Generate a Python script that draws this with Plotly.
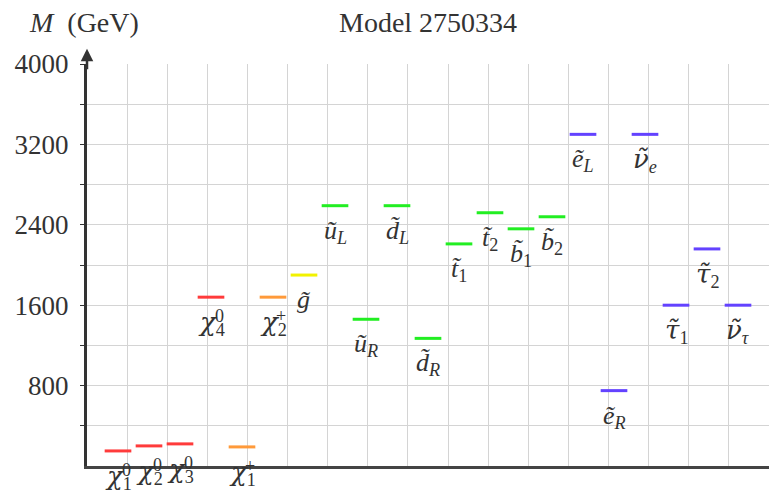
import plotly.graph_objects as go

# ---- data ----
GREEK = "<span style=\"font-family:'DejaVu Serif'\">{}</span>"
labels = [
    "<i>" + GREEK.format("χ") + "</i><sub>1</sub>",
    "<i>" + GREEK.format("χ") + "</i><sub>2</sub>",
    "<i>" + GREEK.format("χ") + "</i><sub>3</sub>",
    "<i>" + GREEK.format("χ") + "</i><sub>4</sub>",
    "<i>" + GREEK.format("χ") + "</i><sub>1</sub>",
    "<i>" + GREEK.format("χ") + "</i><sub>2</sub>",
    "<i>g\u0303</i>",
    "<i>ũ</i><sub><i>L</i></sub>",
    "<i>ũ</i><sub><i>R</i></sub>",
    "<i>d\u0303</i><sub><i>L</i></sub>",
    "<i>d\u0303</i><sub><i>R</i></sub>",
    "<i>t\u0303</i><sub>1</sub>",
    "<i>t\u0303</i><sub>2</sub>",
    "<i>b\u0303</i><sub>1</sub>",
    "<i>b\u0303</i><sub>2</sub>",
    "<i>ẽ</i><sub><i>L</i></sub>",
    "<i>ẽ</i><sub><i>R</i></sub>",
    "<i>" + GREEK.format("ν\u0303") + "</i><sub><i>e</i></sub>",
    "<i>" + GREEK.format("τ\u0303") + "</i><sub>1</sub>",
    "<i>" + GREEK.format("τ\u0303") + "</i><sub>2</sub>",
    "<i>" + GREEK.format("ν\u0303") + "</i><sub><i>τ</i></sub>",
]
label_sups = ["0", "0", "0", "0", "+", "+"] + [""] * 15
masses = [150, 200, 220, 1680, 190, 1680, 1900, 2590, 1460, 2590, 1270,
          2210, 2520, 2360, 2480, 3300, 750, 3300, 1600, 2160, 1600]
kinds = (["neutralino"] * 4 + ["chargino"] * 2 + ["gluino"]
         + ["squark"] * 8 + ["slepton"] * 6)
y_tick_values = [400, 800, 1200, 1600, 2000, 2400, 2800, 3200, 3600, 4000]
y_tick_text = ["", "800", "", "1600", "", "2400", "", "3200", "", "4000"]
title_text = "Model 2750334"
y_title = "<i>M</i>  (GeV)"

# ---- style ----
kind_colors = {
    "neutralino": "#ff3b3b",
    "chargino": "#ff9a3a",
    "gluino": "#f2f200",
    "squark": "#22ee22",
    "slepton": "#6342ff",
}
FONT = "Liberation Serif"
TXT = "#333"
half_w = 0.43
n_slots = len(masses) + 1
n_grid = 17

fig = go.Figure()
for kind, col in kind_colors.items():
    xs, ys = [], []
    for i, (m, k) in enumerate(zip(masses, kinds), start=1):
        if k == kind:
            xs += [i - half_w, i + half_w, None]
            ys += [m, m, None]
    fig.add_trace(go.Scatter(x=xs, y=ys, mode="lines",
                             line=dict(color=col, width=3),
                             hoverinfo="skip", showlegend=False))

for i, (m, lab, sup) in enumerate(zip(masses, labels, label_sups), start=1):
    fig.add_annotation(x=i, y=m, text=lab, showarrow=False,
                       xanchor="center", yanchor="top", yshift=-8,
                       font=dict(family=FONT, size=26, color=TXT))
    if sup:
        fig.add_annotation(x=i, y=m, text=sup, showarrow=False,
                           xanchor="center", yanchor="top", yshift=-7,
                           xshift=8,
                           font=dict(family=FONT, size=18, color=TXT))

fig.add_annotation(xref="paper", yref="paper", x=0.5, y=1.102,
                   text=title_text, showarrow=False, xanchor="center",
                   yanchor="middle", font=dict(family=FONT, size=28, color=TXT))
fig.add_annotation(xref="paper", yref="paper", x=-0.088, y=1.102,
                   text=y_title, showarrow=False, xanchor="left",
                   yanchor="middle", font=dict(family=FONT, size=28, color=TXT))
# axis arrow head
fig.add_annotation(xref="x", yref="paper", x=0, y=1.038, text="",
                   showarrow=True, ax=0, ay=22, arrowhead=2, arrowsize=1,
                   arrowwidth=2.5, arrowcolor="#333")

fig.update_layout(
    width=769, height=490,
    margin=dict(l=87, r=0, t=64, b=24),
    paper_bgcolor="white", plot_bgcolor="white",
    xaxis=dict(range=[0, n_slots], tickmode="linear", tick0=0,
               dtick=n_slots / n_grid, showticklabels=False,
               showgrid=True, gridcolor="#d4d4d4", gridwidth=1,
               zeroline=False, showline=True, linecolor="#444",
               linewidth=3, ticks=""),
    yaxis=dict(range=[0, 4000], tickmode="array", tickvals=y_tick_values,
               ticktext=y_tick_text, showgrid=True, gridcolor="#d4d4d4",
               gridwidth=1, zeroline=False, showline=True, linecolor="#333",
               linewidth=3, ticks="outside", ticklen=4, tickcolor="#333",
               ticklabelstandoff=6,
               tickfont=dict(family=FONT, size=27, color=TXT)),
)

fig.write_html("out.html", config={"displayModeBar": False},
               post_script="document.body.style.margin='0px';")
